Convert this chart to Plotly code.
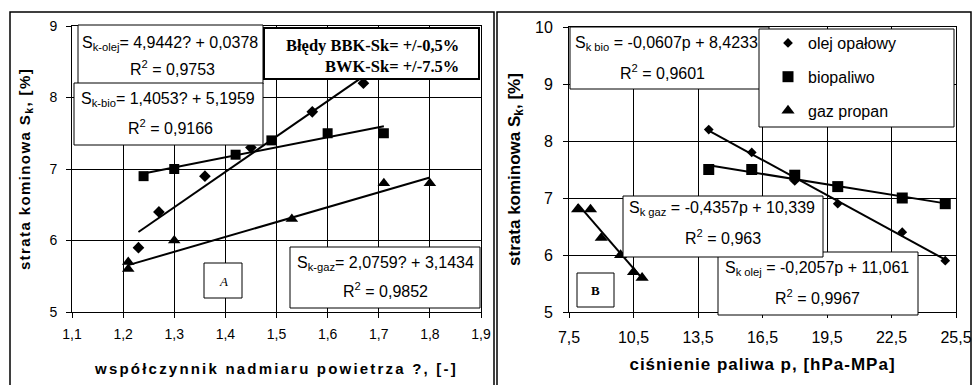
import plotly.graph_objects as go

# ---------------- data ----------------
series_names = ["olej opałowy", "biopaliwo", "gaz propan"]

# panel A: excess air ratio (lambda) vs stack loss
lam_olej = [1.23, 1.27, 1.36, 1.45, 1.57, 1.67]
sk_olej_lam = [5.9, 6.4, 6.9, 7.3, 7.8, 8.2]
lam_bio = [1.24, 1.30, 1.42, 1.49, 1.60, 1.71]
sk_bio_lam = [6.9, 7.0, 7.2, 7.4, 7.5, 7.5]
lam_gaz = [1.21, 1.21, 1.30, 1.53, 1.71, 1.80]
sk_gaz_lam = [5.7, 5.6, 6.0, 6.3, 6.8, 6.8]

# panel B: fuel pressure vs stack loss
p_olej = [14.0, 16.0, 18.0, 20.0, 23.0, 25.0]
sk_olej_p = [8.2, 7.8, 7.3, 6.9, 6.4, 5.9]
p_bio = [14.0, 16.0, 18.0, 20.0, 23.0, 25.0]
sk_bio_p = [7.5, 7.5, 7.4, 7.2, 7.0, 6.9]
p_gaz = [7.9, 8.5, 9.0, 9.9, 10.5, 10.9]
sk_gaz_p = [6.8, 6.8, 6.3, 6.0, 5.7, 5.6]

# linear trendline coefficients shown on the chart (slope, intercept)
coef_olej_lam = [4.9442, 0.0378]
coef_bio_lam = [1.4053, 5.1959]
coef_gaz_lam = [2.0759, 3.1434]
coef_olej_p = [-0.2057, 11.061]
coef_bio_p = [-0.0607, 8.4233]
coef_gaz_p = [-0.4357, 10.339]

# tick labels
lam_ticks = [1.1, 1.2, 1.3, 1.4, 1.5, 1.6, 1.7, 1.8, 1.9]
lam_ticktext = ["1,1", "1,2", "1,3", "1,4", "1,5", "1,6", "1,7", "1,8", "1,9"]
p_ticks = [7.5, 10.5, 13.5, 16.5, 19.5, 22.5, 25.5]
p_ticktext = ["7,5", "10,5", "13,5", "16,5", "19,5", "22,5", "25,5"]

# label texts
eq_olej_lam = "S<sub>k-olej</sub>= 4,9442? + 0,0378"
r2_olej_lam = "R<sup>2</sup> = 0,9753"
eq_bio_lam = "S<sub>k-bio</sub>= 1,4053? + 5,1959"
r2_bio_lam = "R<sup>2</sup> = 0,9166"
eq_gaz_lam = "S<sub>k-gaz</sub>= 2,0759? + 3,1434"
r2_gaz_lam = "R<sup>2</sup> = 0,9852"
eq_bio_p = "S<sub>k bio</sub> = -0,0607p + 8,4233"
r2_bio_p = "R<sup>2</sup> = 0,9601"
eq_gaz_p = "S<sub>k gaz</sub> = -0,4357p + 10,339"
r2_gaz_p = "R<sup>2</sup> = 0,963"
eq_olej_p = "S<sub>k olej</sub> = -0,2057p + 11,061"
r2_olej_p = "R<sup>2</sup> = 0,9967"
errors_text = "Błędy BBK-Sk= +/-0,5%<br>BWK-Sk= +/-7.5%"

# ---------------- helpers ----------------
W, H = 974, 385
def fx(px):
    return px / W
def fy(py):
    return 1 - py / H

SANS = "Liberation Sans"
SERIF = "Liberation Serif"

def trend(xs, coef):
    x0, x1 = min(xs), max(xs)
    return [x0, x1], [coef[0] * x0 + coef[1], coef[0] * x1 + coef[1]]

fig = go.Figure()

panelA = [
    (lam_olej, sk_olej_lam, coef_olej_lam, "diamond", 9),
    (lam_bio, sk_bio_lam, coef_bio_lam, "square", 10),
    (lam_gaz, sk_gaz_lam, coef_gaz_lam, "triangle-up", 11),
]
panelB = [
    (p_olej, sk_olej_p, coef_olej_p, "diamond", 7.5),
    (p_bio, sk_bio_p, coef_bio_p, "square", 11),
    (p_gaz, sk_gaz_p, coef_gaz_p, "triangle-up", 11.5),
]

for (xs, ys, coef, sym, size), name in zip(panelA, series_names):
    tx, ty = trend(xs, coef)
    fig.add_trace(go.Scatter(x=tx, y=ty, mode="lines", line=dict(color="black", width=2),
                             showlegend=False, hoverinfo="skip", xaxis="x", yaxis="y"))
for (xs, ys, coef, sym, size), name in zip(panelA, series_names):
    fig.add_trace(go.Scatter(x=xs, y=ys, mode="markers", name=name, showlegend=False,
                             marker=dict(symbol=sym, size=size, color="black"),
                             xaxis="x", yaxis="y"))

for (xs, ys, coef, sym, size), name in zip(panelB, series_names):
    tx, ty = trend(xs, coef)
    fig.add_trace(go.Scatter(x=tx, y=ty, mode="lines", line=dict(color="black", width=2),
                             showlegend=False, hoverinfo="skip", xaxis="x2", yaxis="y2"))
for (xs, ys, coef, sym, size), name in zip(panelB, series_names):
    fig.add_trace(go.Scatter(x=xs, y=ys, mode="markers", name=name, legendgroup=name,
                             marker=dict(symbol=sym, size=size, color="black"),
                             xaxis="x2", yaxis="y2"))

# ---------------- frames and label boxes ----------------
def rect(x0, y0, x1, y1, width=1, fill="white"):
    return dict(type="rect", xref="paper", yref="paper", layer="above",
                x0=fx(x0), x1=fx(x1), y0=fy(y1), y1=fy(y0),
                line=dict(color="black", width=width), fillcolor=fill)

shapes = [
    rect(10, 12, 494, 395, width=1.5, fill="rgba(0,0,0,0)"),
    rect(497, 12, 971, 395, width=1.5, fill="rgba(0,0,0,0)"),
    rect(78, 25, 263, 84),
    rect(74, 83, 263, 145),
    rect(264, 28, 479, 79, width=2),
    rect(290, 247, 480, 308),
    rect(204, 263, 242, 298),
    rect(570, 27, 769, 89),
    rect(759, 29, 954, 127),
    rect(718, 252, 918, 315),
    rect(623, 196, 823, 257),
    rect(577, 273, 614, 307),
]

def txt(x, y, text, size=16, family=SANS, xanchor="center", align="center", **fkw):
    return dict(x=fx(x), y=fy(y), xref="paper", yref="paper", text=text, showarrow=False,
                xanchor=xanchor, yanchor="middle", align=align,
                font=dict(family=family, size=size, color="black", **fkw))

annotations = [
    txt(170, 43, eq_olej_lam), txt(172, 68, r2_olej_lam),
    txt(168, 100, eq_bio_lam), txt(170, 127, r2_bio_lam),
    txt(385, 263, eq_gaz_lam), txt(385, 290, r2_gaz_lam),
    txt(461, 56, errors_text, size=16.5, family=SERIF, xanchor="right", align="right", weight="bold"),
    txt(223, 281, "A", size=13, family=SERIF, style="italic"),
    txt(573, 43, eq_bio_p, xanchor="left", align="left"), txt(662, 72, r2_bio_p),
    txt(722, 209, eq_gaz_p), txt(723, 237, r2_gaz_p),
    txt(817, 268, eq_olej_p), txt(817, 297, r2_olej_p),
    txt(595, 290, "B", size=13, family=SERIF, weight="bold"),
]

axis_common = dict(showgrid=True, gridcolor="black", gridwidth=1, showline=True,
                   linecolor="black", linewidth=1, mirror=True, ticks="outside",
                   ticklen=5, tickcolor="black", zeroline=False, automargin=False)

fig.update_layout(
    width=W, height=H, margin=dict(l=0, r=0, t=0, b=0, autoexpand=False),
    paper_bgcolor="white", plot_bgcolor="white",
    showlegend=True,
    legend=dict(x=fx(768), y=fy(26), xanchor="left", yanchor="top",
                bgcolor="rgba(0,0,0,0)", borderwidth=0, tracegroupgap=10,
                font=dict(family=SANS, size=16, color="black")),
    xaxis=dict(domain=[fx(72), fx(481)], range=[1.1, 1.9], anchor="y",
               tickvals=lam_ticks, ticktext=lam_ticktext, ticklabelstandoff=4,
               tickfont=dict(family=SANS, size=14, color="black"),
               title=dict(text="współczynnik nadmiaru powietrza ?, [-]", standoff=22,
                          font=dict(family=SANS, size=15, color="black", weight="bold")),
               **axis_common),
    yaxis=dict(domain=[fy(312), fy(26)], range=[5, 9], dtick=1, anchor="x",
               ticklabelstandoff=6,
               tickfont=dict(family=SANS, size=14, color="black"),
               title=dict(text="strata kominowa S<sub>k</sub>, [%]", standoff=15,
                          font=dict(family=SANS, size=15, color="black", weight="bold")),
               **axis_common),
    xaxis2=dict(domain=[fx(569), fx(956)], range=[7.5, 25.5], anchor="y2",
                tickvals=p_ticks, ticktext=p_ticktext, ticklabelstandoff=6,
                tickfont=dict(family=SANS, size=16, color="black"),
                title=dict(text="ciśnienie paliwa p, [hPa-MPa]", standoff=12,
                           font=dict(family=SANS, size=17, color="black", weight="bold")),
                **axis_common),
    yaxis2=dict(domain=[fy(312), fy(27)], range=[5, 10], dtick=1, anchor="x2",
                ticklabelstandoff=7,
                tickfont=dict(family=SANS, size=16, color="black"),
                title=dict(text="strata kominowa S<sub>k</sub>, [%]", standoff=10,
                           font=dict(family=SANS, size=17, color="black", weight="bold")),
                **axis_common),
    shapes=shapes,
    annotations=annotations,
)

post = """
var gd = document.getElementById('{plot_id}');
var sp = {'xtitle': '2.2px', 'ytitle': '1.4px', 'x2title': '1px', 'y2title': '0px'};
for (var k in sp) {
  var el = gd.querySelector('text.' + k);
  if (el) { el.style.letterSpacing = sp[k]; }
}
"""

fig.write_html("out.html", post_script=post)
